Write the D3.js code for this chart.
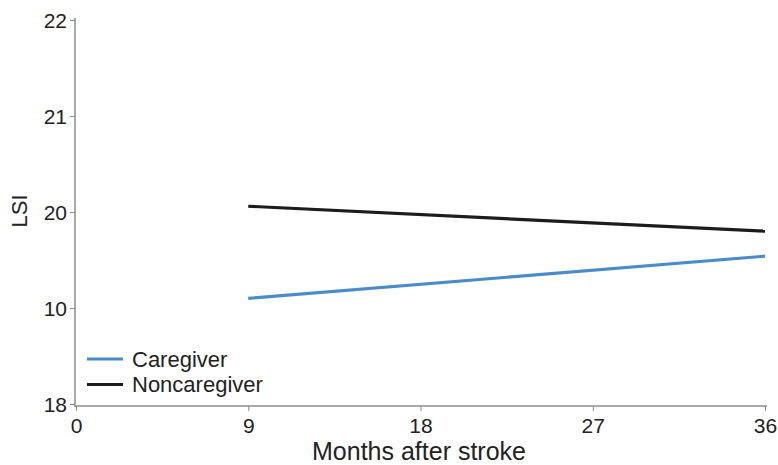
<!DOCTYPE html>
<html>
<head>
<meta charset="utf-8">
<script src="https://cdn.jsdelivr.net/npm/d3@7"></script>
<style>
  body { margin: 0; background: #fff; }
  svg text { font-family: "Liberation Sans", Arial, sans-serif; fill: #222; }
</style>
</head>
<body>
<svg id="chart" width="778" height="465"></svg>
<script>
// data
var months = [9, 36];
var caregiver = [19.10, 19.54];
var noncaregiver = [20.06, 19.80];
var xTicks = [0, 9, 18, 27, 36];
var yTicks = [18, 19, 20, 21, 22];
var yTickLabels = ["18", "10", "20", "21", "22"];   // as printed in the figure

var series = [
  {name: "Caregiver", values: caregiver, color: "#4a8bcb"},
  {name: "Noncaregiver", values: noncaregiver, color: "#1c1c1c"}
];

var svg = d3.select('#chart');
var x = d3.scaleLinear().domain([0, 36]).range([76, 765]);
var y = d3.scaleLinear().domain([18, 22]).range([404, 20]);

var axisColor = "#8c8c8c";

// y axis
var yAxis = svg.append('g')
  .attr('transform', 'translate(75,0)')
  .call(d3.axisLeft(y).tickValues(yTicks).tickSize(5).tickPadding(3)
    .tickFormat(function(d, i) { return yTickLabels[i]; }));
yAxis.select('.domain').remove();
yAxis.append('line').attr('x1', 0).attr('x2', 0).attr('y1', 18).attr('y2', 407)
  .attr('stroke', axisColor).attr('stroke-width', 1.5);
yAxis.selectAll('.tick line').attr('stroke', axisColor);
yAxis.selectAll('.tick text').attr('font-size', 21).attr('dy', '0.36em');

// x axis
var xAxis = svg.append('g')
  .attr('transform', 'translate(0,406)')
  .call(d3.axisBottom(x).tickValues(xTicks).tickSize(5).tickPadding(7));
xAxis.select('.domain').remove();
xAxis.append('line').attr('x1', 75).attr('x2', 767).attr('y1', 0).attr('y2', 0)
  .attr('stroke', axisColor).attr('stroke-width', 1.5);
xAxis.selectAll('.tick line').attr('stroke', axisColor);
xAxis.selectAll('.tick text').attr('font-size', 21);

// axis titles
svg.append('text').attr('x', 419).attr('y', 459.5).attr('text-anchor', 'middle')
  .attr('font-size', 25).text('Months after stroke');
svg.append('text').attr('transform', 'translate(27,211) rotate(-90)')
  .attr('text-anchor', 'middle').attr('font-size', 22).text('LSI');

// lines
var line = d3.line()
  .x(function(d, i) { return x(months[i]); })
  .y(function(d) { return y(d); });

svg.selectAll('.series')
  .data(series)
  .enter()
  .append('path')
  .attr('class', 'series')
  .attr('d', function(s) { return line(s.values); })
  .attr('fill', 'none')
  .attr('stroke', function(s) { return s.color; })
  .attr('stroke-width', 3.2);

// legend
var legend = svg.selectAll('.legend')
  .data(series)
  .enter()
  .append('g')
  .attr('class', 'legend')
  .attr('transform', function(s, i) { return 'translate(87,' + (359 + i * 25.5) + ')'; });
legend.append('line').attr('x1', 0).attr('x2', 36).attr('y1', 0).attr('y2', 0)
  .attr('stroke', function(s) { return s.color; }).attr('stroke-width', 3.2);
legend.append('text').attr('x', 45).attr('y', 7.5)
  .attr('font-size', 22).text(function(s) { return s.name; });
</script>
</body>
</html>
